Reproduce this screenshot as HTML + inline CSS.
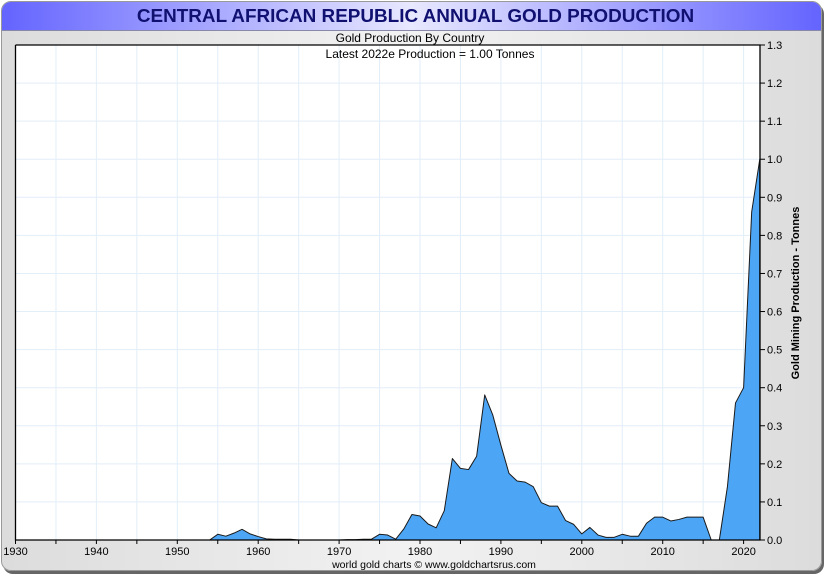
<!DOCTYPE html>
<html><head><meta charset="utf-8"><style>
body{margin:0;width:825px;height:575px;overflow:hidden;background:#fff;font-family:"Liberation Sans",sans-serif}
#frame{position:absolute;left:1px;top:1px;width:819px;height:568px;border:1px solid #999;border-radius:10px;background:linear-gradient(90deg,#dcdcdc,#f2f2f2 50%,#dcdcdc);box-shadow:2px 3px 0 #666;overflow:hidden}
#title{position:absolute;left:0;top:0;width:819px;height:28px;background:linear-gradient(90deg,#6464ff,#e8e8ff 50%,#6464ff);border-bottom:1px solid #8888aa;text-align:center;font-weight:bold;font-size:18.9px;line-height:30px;color:#101070;text-indent:8px}
</style></head><body>
<div id="frame"><div id="title">CENTRAL AFRICAN REPUBLIC ANNUAL GOLD PRODUCTION</div></div>
<svg id="chart" width="825" height="575" style="position:absolute;left:0;top:0"></svg>
<script>
const years=[1954,1955,1956,1957,1958,1959,1960,1961,1962,1963,1964,1965,1966,1967,1968,1969,1970,1971,1972,1973,1974,1975,1976,1977,1978,1979,1980,1981,1982,1983,1984,1985,1986,1987,1988,1989,1990,1991,1992,1993,1994,1995,1996,1997,1998,1999,2000,2001,2002,2003,2004,2005,2006,2007,2008,2009,2010,2011,2012,2013,2014,2015,2016,2017,2018,2019,2020,2021,2022];
const production=[0,0.015,0.01,0.018,0.028,0.016,0.009,0.003,0.002,0.002,0.002,0,0,0,0,0,0,0.001,0.001,0.002,0.002,0.015,0.013,0.002,0.029,0.067,0.063,0.042,0.032,0.077,0.214,0.188,0.185,0.22,0.381,0.328,0.249,0.175,0.155,0.152,0.14,0.098,0.089,0.089,0.051,0.041,0.016,0.033,0.013,0.007,0.007,0.015,0.01,0.01,0.044,0.06,0.06,0.05,0.054,0.06,0.06,0.06,0,0,0.14,0.36,0.40,0.862,1.0];
const xTicks=[1930,1940,1950,1960,1970,1980,1990,2000,2010,2020];
const yTicks=[0,0.1,0.2,0.3,0.4,0.5,0.6,0.7,0.8,0.9,1.0,1.1,1.2,1.3];
const L=15.5,R=760,T=45,B=540;
const xs=y=>L+(y-1930)*8.09;
const ys=v=>B-v/1.3*(B-T);
const svg=document.getElementById('chart');const NS='http://www.w3.org/2000/svg';
function mk(t,a,p){const e=document.createElementNS(NS,t);for(const k in a)e.setAttribute(k,a[k]);(p||svg).appendChild(e);return e;}
const bg=mk('rect',{x:L,y:T,width:R-L,height:B-T,fill:'#fff'});


for(let y=1935;y<=2020;y+=5){const g=mk('line',{x1:xs(y),x2:xs(y),y1:T,y2:B,stroke:'#e2eef8','stroke-width':1});

}
yTicks.forEach(v=>{const g=mk('line',{x1:L,x2:R,y1:ys(v),y2:ys(v),stroke:'#e2eef8','stroke-width':1});


const t=mk('line',{x1:R,x2:R+5,y1:ys(v),y2:ys(v),stroke:'#000'});


const l=mk('text',{x:R+7,y:ys(v)+4,'font-size':11,fill:'#000'});l.textContent=v.toFixed(1);

});
let d='M'+xs(years[0])+','+ys(0);
years.forEach((y,i)=>{d+=' L'+xs(y)+','+ys(production[i]);});
d+=' L'+xs(years[years.length-1])+','+ys(0)+' Z';
const area=mk('path',{d:d,fill:'#4da6f5',stroke:'#1a1a1a','stroke-width':1,'stroke-linejoin':'round'});


const ax=mk('polyline',{points:`${L},${T} ${R},${T} ${R},${B} ${L},${B} ${L},${T}`,fill:'none',stroke:'#000','stroke-width':1.3});


for(let y=1930;y<=2020;y+=5){const t=mk('line',{x1:xs(y),x2:xs(y),y1:B,y2:B+4,stroke:'#000'});

}
xTicks.forEach(y=>{const l=mk('text',{x:xs(y),y:B+15,'font-size':11,'text-anchor':'middle',fill:'#000'});l.textContent=y;

});
function txt(s,a,name){const e=mk('text',a);e.textContent=s;

return e;}
txt('Gold Production By Country',{x:410,y:42,'font-size':12,'text-anchor':'middle'},'chart-subtitle');
txt('Latest 2022e  Production = 1.00 Tonnes',{x:430,y:58,'font-size':12,'text-anchor':'middle'},'latest-production-note');
txt('world gold charts © www.goldchartsrus.com',{x:434,y:568,'font-size':10.5,'text-anchor':'middle'},'footer-credit');
txt('Gold Mining Production - Tonnes',{x:0,y:0,'font-size':11,'font-weight':'bold','text-anchor':'middle',transform:'translate(799,293) rotate(-90)'},'y-axis-title');
</script>
</body></html>
